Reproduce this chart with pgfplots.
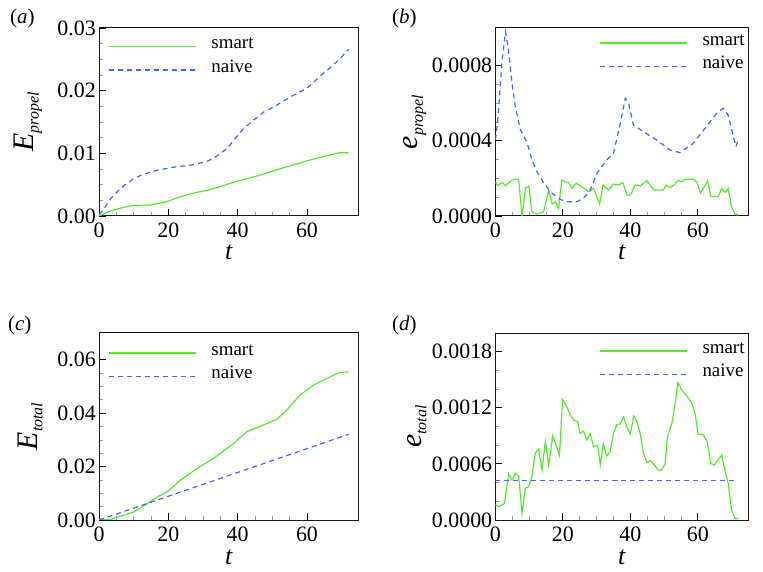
\documentclass[border=0pt]{standalone}
\usepackage{fontspec}
\setmainfont{Liberation Serif}
\usepackage{pgfplots}
\pgfplotsset{compat=1.18}
\definecolor{smartc}{RGB}{85,235,45}
\definecolor{naivec}{RGB}{70,100,250}
\pgfplotsset{
 myax/.style={
  scale only axis, xmin=0, xmax=75, xtick={0,20,40,60}, minor x tick num=3,
  tick align=inside, xtick pos=bottom, ytick pos=left,
  major tick length=7bp, minor tick length=4bp,
  major tick style={black, line width=0.9bp},
  minor tick style={gray!80, line width=0.7bp},
  axis line style={line width=1bp, black!90},
  tick label style={font=\fontsize{22}{22}\selectfont},
  /pgf/number format/assume math mode=true,
  scaled y ticks=false,
  xticklabel style={inner sep=0pt, yshift=-7bp},
  yticklabel style={inner sep=0pt, xshift=-3bp},
  legend style={draw=none, fill=none, font=\fontsize{19}{19}\selectfont, anchor=north west, inner sep=0pt, row sep=0pt, column sep=0pt, cells={anchor=west}, nodes={inner sep=0pt, text height=14bp, text depth=9.5bp}},
  xlabel={\fontsize{26}{26}\selectfont\textit{t}},
  xlabel style={at={(axis description cs:0.5,0)}, anchor=base, yshift=-44bp, inner sep=0pt},
 },
 sm/.style={color=smartc, line width=1.2bp, legend image code/.code={\draw[smartc, line width=1.3bp] (0bp,0bp) -- (87bp,0bp);}},
 nv/.style={color=naivec, line width=1.2bp, dash pattern=on 5bp off 4bp, legend image code/.code={\draw[naivec, line width=1.3bp, dash pattern=on 5bp off 4bp] (0bp,0bp) -- (87bp,0bp);}},
}
\newcommand{\ylab}[2]{\fontsize{30}{30}\selectfont\textit{#1}\raisebox{-5bp}{\fontsize{16}{16}\selectfont\textit{#2}}}
\begin{document}
\begin{tikzpicture}
% (a)
\begin{axis}[myax, at={(99bp,356bp)}, anchor=south west, width=260bp, height=188bp,
  ymin=0, ymax=0.03, ytick={0,0.01,0.02,0.03}, minor y tick num=3,
  yticklabel style={/pgf/number format/.cd, fixed, fixed zerofill, precision=2},
  ylabel={\ylab{E}{propel}}, ylabel style={at={(axis description cs:-0.273,0.5)}, anchor=center},
  legend style={at={(axis description cs:0,1)}, xshift=9bp, yshift=-6.5bp}]
\addplot[sm] coordinates {(0,0) (2,0.0005) (4.3,0.00096) (7.2,0.0014) (10,0.0017) (14.5,0.00176) (17,0.002) (19.7,0.0023) (22.5,0.0029) (25.5,0.0034) (28.5,0.0038) (31.2,0.0041) (35,0.0047) (38.9,0.0054) (43,0.0060) (47.5,0.0067) (53.2,0.0077) (57,0.0083) (60,0.0088) (64.7,0.0095) (69.5,0.0101) (72,0.0101)};
\addlegendentry{\hspace{15bp}smart}
\addplot[nv] coordinates {(0,0.0002) (1.5,0.0012) (3.4,0.0028) (5.5,0.0040) (7.3,0.0049) (10.1,0.0060) (13,0.0067) (16.8,0.0073) (21.6,0.0078) (26.4,0.0081) (31.2,0.0087) (34.1,0.0096) (37,0.0108) (39.8,0.0127) (41.8,0.0140) (44.6,0.0153) (47.5,0.0166) (50.4,0.0174) (55.2,0.0190) (60,0.0204) (62.8,0.0218) (65,0.0229) (67.6,0.0241) (70,0.0254) (72,0.0266)};
\addlegendentry{\hspace{15bp}naive}
\end{axis}
% (b)
\begin{axis}[myax, at={(495.4bp,356bp)}, anchor=south west, width=253bp, height=188bp,
  ymin=0, ymax=0.001, ytick={0,0.0004,0.0008}, minor y tick num=3,
  yticklabel style={/pgf/number format/.cd, fixed, fixed zerofill, precision=4},
  ylabel={\ylab{e}{propel}}, ylabel style={at={(axis description cs:-0.318,0.5)}, anchor=center},
  legend style={at={(axis description cs:0,1)}, xshift=103.6bp, yshift=-3bp}]
\addplot[sm] coordinates {(0,0.000182) (0.7,0.000161) (2,0.000179) (2.9,0.000161) (4.9,0.000191) (6.4,0.000197) (6.9,0.000191) (7.9,0) (8.9,0.000147) (9.9,0.000160) (10.8,0.000023) (12.3,0.00001) (14.3,0.000023) (15.8,0.000138) (16.8,0.000064) (17.8,0.000076) (18.7,0.000041) (19.7,0.000191) (20.7,0.000182) (21.7,0.000179) (22.7,0.000147) (23.9,0.000174) (25.2,0.000161) (26.3,0.000147) (27.6,0.000129) (29.1,0.000147) (30.9,0.000064) (31.9,0.000165) (33.5,0.000138) (35,0.000170) (36.5,0.000165) (37.8,0.000177) (39,0.000112) (40.1,0.000112) (41.4,0.000165) (42.9,0.000160) (44.9,0.000188) (47,0.000138) (49.8,0.000138) (50.6,0.000165) (51.8,0.000152) (53,0.000165) (54.2,0.000191) (55.2,0.000182) (56.2,0.000195) (58.7,0.000195) (59.7,0.000182) (60.8,0.000121) (61.6,0.000147) (62.9,0.000186) (63.9,0.000103) (66.1,0.000103) (67.1,0.000147) (68.1,0.000124) (69,0.000147) (70,0.00005) (71,0.00001) (72,0.000005)};
\addlegendentry{\hspace{15bp}smart}
\addplot[nv] coordinates {(0,0.000404) (0.7,0.00051) (2,0.00083) (3,0.00098) (3.9,0.00088) (4.9,0.00071) (5.9,0.00058) (7.4,0.00046) (9.4,0.00039) (10.8,0.00030) (12.3,0.000236) (14.3,0.000177) (16.3,0.000129) (18.7,0.000094) (20.7,0.000076) (24.2,0.000076) (26.1,0.000094) (28.1,0.000138) (30.1,0.000227) (33,0.000298) (35,0.000333) (37,0.00049) (38.5,0.000626) (39.5,0.0006) (40.9,0.000484) (43.9,0.000448) (47.8,0.000404) (51.8,0.000351) (54.7,0.000337) (58.7,0.000387) (62.1,0.000466) (65.6,0.000546) (67.5,0.000573) (69,0.000537) (71.3,0.000369) (72,0.000404)};
\addlegendentry{\hspace{15bp}naive}
\end{axis}
% (c)
\begin{axis}[myax, at={(99bp,52bp)}, anchor=south west, width=260bp, height=187bp,
  ymin=0, ymax=0.07, ytick={0,0.02,0.04,0.06}, minor y tick num=3,
  yticklabel style={/pgf/number format/.cd, fixed, fixed zerofill, precision=2},
  ylabel={\ylab{E}{total}}, ylabel style={at={(axis description cs:-0.265,0.5)}, anchor=center},
  legend style={at={(axis description cs:0,1)}, xshift=9bp, yshift=-8bp}]
\addplot[sm] coordinates {(0,0) (3.4,0.00025) (7.3,0.0019) (10.1,0.0031) (14,0.0062) (16.9,0.0087) (19.7,0.0106) (23.6,0.0150) (28.4,0.0194) (33.1,0.0231) (38.9,0.0287) (42.7,0.0331) (47.5,0.0356) (51.3,0.0377) (54.2,0.0412) (58,0.0468) (61.9,0.0505) (65.7,0.0530) (69.5,0.0553) (72,0.0554)};
\addlegendentry{\hspace{15bp}smart}
\addplot[nv] coordinates {(0,0) (20,0.0089) (40,0.0178) (60,0.0267) (72,0.0321)};
\addlegendentry{\hspace{15bp}naive}
\end{axis}
% (d)
\begin{axis}[myax, at={(495.4bp,52bp)}, anchor=south west, width=253bp, height=187bp,
  ymin=0, ymax=0.002, ytick={0,0.0006,0.0012,0.0018}, minor y tick num=2,
  yticklabel style={/pgf/number format/.cd, fixed, fixed zerofill, precision=4},
  ylabel={\ylab{e}{total}}, ylabel style={at={(axis description cs:-0.31,0.5)}, anchor=center},
  legend style={at={(axis description cs:0,1)}, xshift=103.6bp, yshift=-6bp}]
\addplot[sm] coordinates {(0,0.000160) (1,0.000143) (2.7,0.000178) (3.9,0.000489) (4.9,0.000428) (5.9,0.000499) (6.9,0.000471) (7.9,0.000071) (8.9,0.000339) (9.9,0.000357) (10.8,0.000463) (11.8,0.000713) (12.8,0.000756) (13.8,0.000535) (14.8,0.000838) (15.8,0.000588) (17,0.000898) (18,0.000802) (19,0.000688) (19.9,0.00129) (21.2,0.00121) (22.2,0.00112) (23.2,0.00107) (24.4,0.00105) (25.1,0.000927) (26.1,0.000952) (27.1,0.000856) (28.1,0.00092) (29.1,0.000784) (30.3,0.000799) (31.1,0.000588) (32,0.000813) (33,0.000684) (34,0.00073) (35,0.000927) (36,0.00102) (37,0.00103) (38,0.00110) (39,0.000998) (40,0.00092) (41,0.00111) (42,0.00105) (42.9,0.000927) (43.9,0.000713) (44.9,0.000613) (45.9,0.000634) (46.9,0.000599) (48.3,0.000535) (49.3,0.000535) (50.3,0.000599) (51,0.000891) (52.3,0.00103) (53.3,0.00125) (54.1,0.00147) (55.2,0.00139) (56.7,0.00133) (58.2,0.00125) (59.2,0.00114) (60.1,0.000917) (61.6,0.000913) (62.8,0.000838) (63.8,0.000606) (64.9,0.000588) (67.1,0.000695) (68,0.000535) (69,0.000392) (70,0.000107) (71,0.000018) (72,0.00001)};
\addlegendentry{\hspace{15bp}smart}
\addplot[nv] coordinates {(0,0.000424) (36,0.000424) (72,0.000424)};
\addlegendentry{\hspace{15bp}naive}
\end{axis}
\node[anchor=base west, inner sep=0pt, font=\fontsize{21}{21}\selectfont] at (10bp,548bp) {(\textit{a})};
\node[anchor=base west, inner sep=0pt, font=\fontsize{21}{21}\selectfont] at (392bp,548bp) {(\textit{b})};
\node[anchor=base west, inner sep=0pt, font=\fontsize{21}{21}\selectfont] at (8bp,241bp) {(\textit{c})};
\node[anchor=base west, inner sep=0pt, font=\fontsize{21}{21}\selectfont] at (392bp,241bp) {(\textit{d})};
\pgfresetboundingbox
\path[use as bounding box] (0,0) rectangle (763bp,572bp);
\end{tikzpicture}
\end{document}
